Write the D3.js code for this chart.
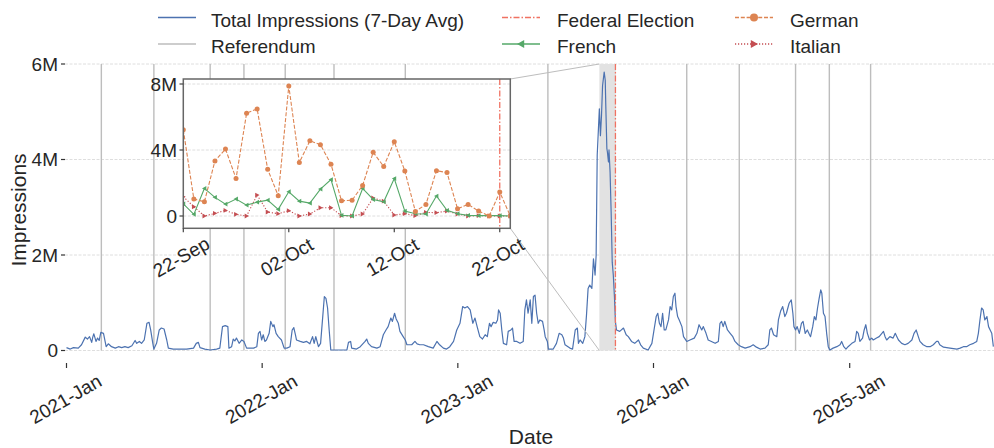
<!DOCTYPE html>
<html><head><meta charset="utf-8">
<script src="https://cdn.jsdelivr.net/npm/d3@7"></script>
<style>body{margin:0;background:#fff} svg{display:block;font-family:"Liberation Sans",Arial,sans-serif}</style>
</head><body><svg id="c" width="994" height="448"></svg>
<script>
// ---------- DATA ----------
const seriesStart = "2021-01-01";
// day offsets from seriesStart (vertices of the 7-day avg line)
const dayOffsets = [0,7,13,22,28,35,39,43,47,49,51,55,58,61,64,69,74,78,84,91,97,103,109,115,122,128,131,136,140,145,150,154,157,161,163,168,173,177,182,187,190,199,212,224,237,242,246,249,258,268,280,286,291,296,301,303,308,311,314,317,322,327,331,336,349,355,358,361,364,367,370,373,378,381,385,387,391,395,401,406,411,417,421,424,427,429,436,442,448,454,459,462,465,470,474,478,481,484,487,490,493,504,523,526,530,532,541,548,557,560,563,569,579,585,591,596,600,605,608,612,615,619,622,628,632,635,644,650,654,659,666,675,684,691,696,703,709,715,722,728,734,739,743,748,753,758,762,766,771,776,781,785,789,792,796,801,804,806,809,812,815,821,824,829,832,835,840,846,852,855,858,861,865,868,871,874,877,880,883,888,891,893,897,899,908,914,919,924,927,930,939,944,949,953,955,958,963,967,970,973,976,980,983,986,988,990,994,996,998,1000,1003,1005,1006,1008,1009,1011,1012,1014,1016,1018,1020,1022,1024,1026,1032,1039,1044,1048,1054,1060,1067,1071,1076,1085,1092,1096,1100,1103,1106,1109,1112,1115,1118,1123,1126,1129,1132,1135,1137,1140,1143,1148,1151,1157,1163,1171,1176,1180,1185,1188,1193,1197,1203,1210,1216,1219,1222,1225,1228,1233,1238,1243,1247,1253,1259,1266,1275,1281,1287,1294,1303,1309,1312,1315,1319,1325,1328,1332,1336,1340,1343,1348,1352,1355,1357,1360,1363,1367,1371,1374,1378,1382,1386,1388,1392,1395,1398,1401,1404,1407,1409,1412,1415,1418,1421,1424,1430,1437,1443,1446,1450,1454,1458,1465,1471,1474,1477,1480,1485,1488,1491,1494,1498,1502,1505,1511,1516,1521,1524,1527,1530,1536,1542,1546,1549,1552,1558,1564,1570,1577,1581,1585,1589,1592,1598,1605,1611,1617,1623,1626,1629,1636,1648,1661,1667,1673,1679,1685,1692,1698,1701,1704,1707,1710,1713,1717,1720,1723,1726,1729];
// total impressions, 7-day average, in millions
const totalImpressionsM = [0.06,0.03,0.06,0.05,0.12,0.28,0.24,0.29,0.17,0.28,0.35,0.19,0.26,0.21,0.38,0.36,0.08,0.14,0.08,0.05,0.08,0.06,0.08,0.06,0.10,0.21,0.15,0.19,0.15,0.22,0.57,0.59,0.43,0.15,0.03,0.15,0.43,0.47,0.45,0.22,0.05,0.03,0.03,0.03,0.05,0.15,0.17,0.06,0.03,0.01,0.03,0.05,0.50,0.52,0.50,0.05,0.08,0.24,0.20,0.26,0.15,0.22,0.19,0.05,0.05,0.08,0.36,0.40,0.22,0.33,0.19,0.22,0.36,0.61,0.50,0.54,0.36,0.29,0.22,0.05,0.05,0.08,0.43,0.48,0.33,0.22,0.19,0.17,0.19,0.14,0.29,0.15,0.29,0.08,0.15,0.71,1.13,1.09,0.89,0.43,0.01,0.01,0.01,0.17,0.19,0.05,0.03,0.08,0.19,0.24,0.15,0.08,0.05,0.08,0.33,0.43,0.50,0.68,0.61,0.78,0.66,0.57,0.40,0.29,0.22,0.12,0.12,0.19,0.14,0.12,0.12,0.08,0.05,0.19,0.12,0.05,0.03,0.08,0.19,0.43,0.57,0.92,0.89,0.92,0.85,0.57,0.68,0.50,0.29,0.24,0.33,0.29,0.57,0.50,0.59,0.57,0.64,0.85,0.78,0.43,0.15,0.12,0.40,0.43,0.47,0.19,0.19,0.15,0.19,0.85,1.06,0.78,1.06,0.57,1.13,1.16,0.78,0.57,0.64,0.61,0.43,0.29,0.19,0.03,0.03,0.15,0.36,0.33,0.26,0.12,0.05,0.03,0.43,0.47,0.15,0.22,0.15,0.29,0.74,1.30,1.37,1.30,1.92,1.58,1.99,4.09,5.06,4.50,4.92,5.55,5.83,5.66,5.13,4.23,4.16,3.95,4.20,3.74,2.90,1.85,1.58,1.16,0.60,0.43,0.40,0.47,0.33,0.29,0.19,0.15,0.22,0.12,0.05,0.01,0.15,0.43,0.71,0.78,0.57,0.50,0.78,0.43,0.43,0.64,0.92,0.85,1.13,1.20,0.92,0.71,0.64,0.50,0.29,0.19,0.22,0.26,0.36,0.54,0.43,0.50,0.36,0.22,0.19,0.15,0.19,0.57,0.61,0.50,0.61,0.43,0.36,0.29,0.19,0.12,0.08,0.05,0.08,0.12,0.07,0.03,0.05,0.12,0.43,0.47,0.33,0.29,0.64,0.82,0.92,0.71,0.78,0.99,1.06,0.78,0.50,0.43,0.50,0.36,0.57,0.61,0.36,0.43,0.33,0.29,0.50,0.71,0.64,0.89,1.09,1.27,1.20,0.78,0.71,0.36,0.08,0.01,0.05,0.08,0.12,0.19,0.08,0.03,0.08,0.15,0.19,0.40,0.36,0.19,0.26,0.43,0.54,0.36,0.22,0.26,0.22,0.26,0.29,0.36,0.40,0.29,0.22,0.29,0.26,0.36,0.29,0.22,0.15,0.12,0.15,0.22,0.36,0.43,0.29,0.19,0.12,0.08,0.08,0.12,0.19,0.19,0.12,0.07,0.05,0.03,0.05,0.08,0.08,0.12,0.15,0.19,0.36,0.64,0.89,0.85,0.64,0.71,0.50,0.43,0.36,0.08];
const referendumDates = ["2021-03-07","2021-06-13","2021-09-26","2021-11-28","2022-02-13","2022-05-15","2022-09-25","2023-06-18","2024-03-03","2024-06-09","2024-09-22","2024-11-24","2025-02-09"];
const federalElectionDate = "2023-10-22";
const mainTickDates = ["2021-01-01","2022-01-01","2023-01-01","2024-01-01","2025-01-01"];
const mainYTicks = [0, 2e6, 4e6, 6e6];
const mainYTickLabels = ["0","2M","4M","6M"];

// inset: daily impressions by language, 22 Sep - 23 Oct 2023 (millions)
const insetStart = "2023-09-22", insetEnd = "2023-10-23";
const germanM  = [5.23,1.03,0.86,3.34,4.06,2.27,6.23,6.49,2.83,1.23,7.88,3.24,4.56,4.32,3.14,0.92,0.96,1.85,3.86,3.00,4.50,2.73,0.28,0.70,2.75,2.63,0.44,0.70,0.30,0.00,1.45,0.00];
const frenchM  = [0.74,0.10,1.67,1.13,0.72,1.03,0.66,0.84,0.96,0.40,1.47,0.90,0.78,1.63,2.21,0.04,0.00,1.67,1.00,0.86,2.27,0.30,0.14,0.12,1.21,0.34,0.14,0.04,0.02,0.02,0.02,0.00];
const italianM = [1.17,0.56,0.00,0.16,0.34,0.10,0.00,1.27,0.24,0.14,0.32,0.00,0.12,0.50,0.50,0.02,0.00,0.12,1.09,0.90,0.06,0.14,0.02,0.22,0.20,0.30,0.12,0.00,0.02,0.00,0.00,0.00];
const insetTickDates = ["2023-09-22","2023-10-02","2023-10-12","2023-10-22"];
const insetYTicks = [0, 4e6, 8e6];
const insetYTickLabels = ["0","4M","8M"];

// ---------- STYLE ----------
const C = {blue:"#4C72B0", orange:"#DD8452", green:"#55A868", red:"#C44E52", fed:"#f07262", ref:"#bdbdbd", text:"#262626", grid:"#dedede"};
const FS = 19, FL = 21;
const parse = d3.utcParse("%Y-%m-%d");
const svg = d3.select("#c");

// ---------- MAIN ----------
const plot = {left:65, right:994, top:64, bottom:350.5};
const x = d3.scaleUtc().domain([parse("2021-01-01"), parse("2025-01-01")]).range([66.5, 849.7]);
const y = d3.scaleLinear().domain([0, 6e6]).range([plot.bottom, plot.top]);

svg.append("clipPath").attr("id","mclip").append("rect")
  .attr("x",plot.left).attr("y",plot.top-2).attr("width",plot.right-plot.left).attr("height",plot.bottom-plot.top+4);

// grid
svg.append("g").selectAll("line").data(mainYTicks).join("line")
  .attr("x1",plot.left).attr("x2",plot.right).attr("y1",d=>y(d)).attr("y2",d=>y(d))
  .attr("stroke",C.grid).attr("stroke-width",1).attr("stroke-dasharray","3,1.5");

const mg = svg.append("g").attr("clip-path","url(#mclip)");
// referendum lines
mg.selectAll("line.ref").data(referendumDates).join("line").attr("class","ref")
  .attr("x1",d=>x(parse(d))).attr("x2",d=>x(parse(d))).attr("y1",plot.top).attr("y2",plot.bottom)
  .attr("stroke",C.ref).attr("stroke-width",1.4);
// zoom region
const zx0 = x(parse(insetStart)), zx1 = x(parse(insetEnd));
mg.append("rect").attr("x",zx0).attr("y",plot.top).attr("width",zx1-zx0).attr("height",plot.bottom-plot.top)
  .attr("fill","#e2e2e2");
// total line
const s0 = parse(seriesStart);
const mainData = dayOffsets.map((d,i)=>({date:d3.utcDay.offset(s0,d), v:totalImpressionsM[i]*1e6}));
mg.append("path").datum(mainData)
  .attr("d", d3.line().x(d=>x(d.date)).y(d=>y(d.v)))
  .attr("fill","none").attr("stroke",C.blue).attr("stroke-width",1.2).attr("stroke-linejoin","round");
// federal election
const fx = x(parse(federalElectionDate));
mg.append("line").attr("x1",fx).attr("x2",fx).attr("y1",plot.top).attr("y2",plot.bottom)
  .attr("stroke",C.fed).attr("stroke-width",1.3).attr("stroke-dasharray","6,2,1.5,2");

// main y axis
const yAx = svg.append("g");
mainYTicks.forEach((t,i)=>{
  yAx.append("line").attr("x1",61).attr("x2",65).attr("y1",y(t)).attr("y2",y(t)).attr("stroke","#333").attr("stroke-width",1.2);
  yAx.append("text").attr("x",58).attr("y",y(t)).attr("dy","0.35em").attr("text-anchor","end")
    .attr("font-size",FS).attr("fill",C.text).text(mainYTickLabels[i]);
});
// main x axis
const fmtMain = d3.utcFormat("%Y-%b");
const xAx = svg.append("g");
mainTickDates.forEach(ds=>{
  const d = parse(ds), tx = x(d);
  xAx.append("line").attr("x1",tx).attr("x2",tx).attr("y1",363).attr("y2",368).attr("stroke","#333").attr("stroke-width",1.2);
  xAx.append("text").attr("transform",`translate(${tx-1},399) rotate(-30)`).attr("text-anchor","middle")
    .attr("dy","0.35em").attr("font-size",FS).attr("fill",C.text).text(fmtMain(d));
});
svg.append("text").attr("x",531).attr("y",437).attr("dy","0.35em").attr("text-anchor","middle")
  .attr("font-size",FL).attr("fill",C.text).text("Date");
svg.append("text").attr("transform","translate(19,210) rotate(-90)").attr("dy","0.35em").attr("text-anchor","middle")
  .attr("font-size",FL).attr("fill",C.text).text("Impressions");

// ---------- INSET ----------
const ib = {left:183.3, right:510.3, top:79, bottom:228.3};
const ix = d3.scaleUtc().domain([parse(insetStart), parse(insetEnd)]).range([ib.left, ib.right]);
const iy = d3.scaleLinear().domain([0, 8e6]).range([216, 84]);

// connectors
svg.append("line").attr("x1",ib.right).attr("y1",ib.top).attr("x2",zx0).attr("y2",plot.top)
  .attr("stroke","#bdbdbd").attr("stroke-width",1);
svg.append("line").attr("x1",ib.right).attr("y1",ib.bottom).attr("x2",zx0).attr("y2",plot.bottom)
  .attr("stroke","#bdbdbd").attr("stroke-width",1);

const ig = svg.append("g");
ig.append("rect").attr("x",ib.left).attr("y",ib.top).attr("width",ib.right-ib.left).attr("height",ib.bottom-ib.top).attr("fill","#fff");
ig.selectAll("line.ig").data(insetYTicks).join("line").attr("class","ig")
  .attr("x1",ib.left).attr("x2",ib.right).attr("y1",d=>iy(d)).attr("y2",d=>iy(d))
  .attr("stroke",C.grid).attr("stroke-dasharray","3,1.5");
svg.append("clipPath").attr("id","iclip").append("rect")
  .attr("x",ib.left).attr("y",ib.top).attr("width",ib.right-ib.left).attr("height",ib.bottom-ib.top);
const ic = ig.append("g").attr("clip-path","url(#iclip)");
const ifx = ix(parse(federalElectionDate));
ic.append("line").attr("x1",ifx).attr("x2",ifx).attr("y1",ib.top).attr("y2",ib.bottom)
  .attr("stroke",C.fed).attr("stroke-width",1.3).attr("stroke-dasharray","6,2,1.5,2");

const insetDates = d3.utcDay.range(parse(insetStart), d3.utcDay.offset(parse(insetEnd),1));
const iline = d3.line().x(d=>ix(d.date)).y(d=>iy(d.v));
function drawMarker(g, marker, px, py, s){
  if(marker==="circle") g.append("circle").attr("cx",px).attr("cy",py).attr("r",s);
  else if(marker==="left") g.append("path").attr("d",`M${px-s},${py}L${px+s*0.8},${py-s}L${px+s*0.8},${py+s}Z`);
  else if(marker==="right") g.append("path").attr("d",`M${px+s},${py}L${px-s*0.8},${py-s}L${px-s*0.8},${py+s}Z`);
}
function series(vals, color, dash, marker){
  const data = vals.map((v,i)=>({date:insetDates[i], v:v*1e6}));
  ic.append("path").datum(data).attr("d",iline).attr("fill","none").attr("stroke",color)
    .attr("stroke-width",1.1).attr("stroke-dasharray",dash);
  const g = ic.append("g").attr("fill",color);
  data.forEach(d=>drawMarker(g, marker, ix(d.date), iy(d.v), marker==="circle"?2.5:2.4));
}
series(italianM, C.red, "1.2,1.8", "right");
series(frenchM, C.green, null, "left");
series(germanM, C.orange, "4,1.8", "circle");

ig.append("rect").attr("x",ib.left).attr("y",ib.top).attr("width",ib.right-ib.left).attr("height",ib.bottom-ib.top)
  .attr("fill","none").attr("stroke","#666").attr("stroke-width",1.5);
insetYTicks.forEach((t,i)=>{
  ig.append("line").attr("x1",179.5).attr("x2",ib.left).attr("y1",iy(t)).attr("y2",iy(t)).attr("stroke","#444").attr("stroke-width",1.2);
  ig.append("text").attr("x",177).attr("y",iy(t)).attr("dy","0.35em").attr("text-anchor","end")
    .attr("font-size",FS).attr("fill",C.text).text(insetYTickLabels[i]);
});
const fmtInset = d3.utcFormat("%d-%b");
insetTickDates.forEach(ds=>{
  const d = parse(ds), tx = ix(d);
  ig.append("line").attr("x1",tx).attr("x2",tx).attr("y1",ib.bottom).attr("y2",ib.bottom+4).attr("stroke","#444").attr("stroke-width",1.2);
  ig.append("text").attr("transform",`translate(${tx-2},257) rotate(-30)`).attr("text-anchor","middle")
    .attr("dy","0.35em").attr("font-size",FS).attr("fill",C.text).text(fmtInset(d));
});

// ---------- LEGEND ----------
const legendItems = [
  {label:"Total Impressions (7-Day Avg)", color:C.blue, dash:null, marker:null, hx:158, tx:211, y:17.5},
  {label:"Referendum", color:C.ref, dash:null, marker:null, hx:158, tx:211, y:44},
  {label:"Federal Election", color:C.fed, dash:"6,2,1.5,2", marker:null, hx:502, tx:557, y:17.5},
  {label:"French", color:C.green, dash:null, marker:"left", hx:502, tx:557, y:44},
  {label:"German", color:C.orange, dash:"4,1.8", marker:"circle", hx:735, tx:790, y:17.5},
  {label:"Italian", color:C.red, dash:"1.2,1.8", marker:"right", hx:735, tx:790, y:44}
];
const lg = svg.append("g");
legendItems.forEach(it=>{
  lg.append("line").attr("x1",it.hx).attr("x2",it.hx+38).attr("y1",it.y).attr("y2",it.y)
    .attr("stroke",it.color).attr("stroke-width",1.3).attr("stroke-dasharray",it.dash);
  if(it.marker){
    const g = lg.append("g").attr("fill",it.color);
    drawMarker(g, it.marker, it.hx+19, it.y, 4);
  }
  lg.append("text").attr("x",it.tx).attr("y",it.y+9).attr("font-size",FS).attr("fill",C.text).text(it.label);
});
</script></body></html>
